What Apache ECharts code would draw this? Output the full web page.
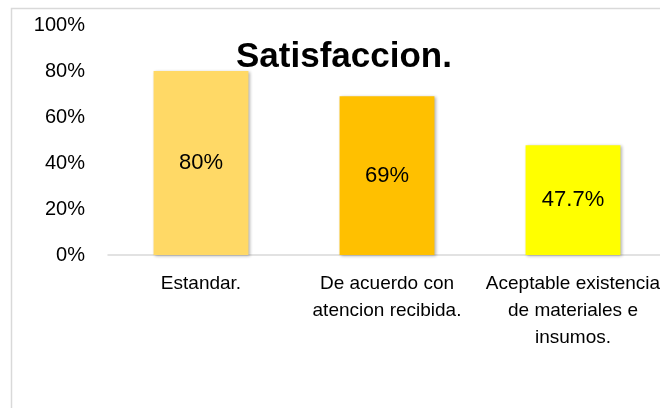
<!DOCTYPE html>
<html>
<head>
<meta charset="utf-8">
<script src="https://cdn.jsdelivr.net/npm/echarts@6/dist/echarts.min.js"></script>
<style>
  html, body { margin: 0; padding: 0; background: #fff; overflow: hidden; }
  /* el grafico original esta recortado por la derecha */
  #chart { width: 672px; height: 408px; }
</style>
</head>
<body>
<div id="chart"></div>
<script>
// datos
const categorias = ['Estandar.', 'De acuerdo con\natencion recibida.', 'Aceptable existencia\nde materiales e\ninsumos.'];
const valores = [80, 69, 47.7];
const colores = ['#FFD966', '#FFC000', '#FFFF00'];
const titulo = 'Satisfaccion.';

const fuente = "'Liberation Sans', Arial, sans-serif";

const myChart = echarts.init(document.getElementById('chart'));

const option = {
  animation: false,
  textStyle: { fontFamily: fuente },
  title: {
    text: titulo,
    left: 231,
    top: 35,
    textStyle: { fontFamily: fuente, fontSize: 35, fontWeight: 'bold', color: '#000' },
    z: 10
  },
  // marco del area del grafico
  graphic: [{
    type: 'rect',
    shape: { x: 11.5, y: 8.5, width: 700, height: 460 },
    style: { fill: 'none', stroke: '#d9d9d9', lineWidth: 1.5 },
    z: -1,
    silent: true
  }],
  grid: { left: 108, top: 25, width: 558, bottom: 153, containLabel: false },
  xAxis: {
    type: 'category',
    data: categorias,
    axisLine: { lineStyle: { color: '#d9d9d9', width: 1.5 } },
    axisTick: { show: false },
    axisLabel: {
      fontFamily: fuente,
      fontSize: 19,
      color: '#000',
      lineHeight: 27,
      margin: 15,
      interval: 0
    }
  },
  yAxis: {
    type: 'value',
    min: 0,
    max: 100,
    interval: 20,
    axisLine: { show: false },
    axisTick: { show: false },
    splitLine: { show: false },
    axisLabel: {
      fontFamily: fuente,
      fontSize: 20,
      color: '#000',
      margin: 23,
      formatter: '{value}%'
    }
  },
  series: [{
    type: 'bar',
    barWidth: '51%',
    data: valores.map((v, i) => ({ value: v, itemStyle: { color: colores[i] } })),
    itemStyle: {
      shadowBlur: 3,
      shadowOffsetX: 1.5,
      shadowOffsetY: 1,
      shadowColor: 'rgba(0,0,0,0.3)'
    },
    label: {
      show: true,
      position: 'inside',
      fontFamily: fuente,
      fontSize: 22,
      color: '#000',
      formatter: '{c}%'
    }
  }]
};

myChart.setOption(option);
</script>
</body>
</html>
